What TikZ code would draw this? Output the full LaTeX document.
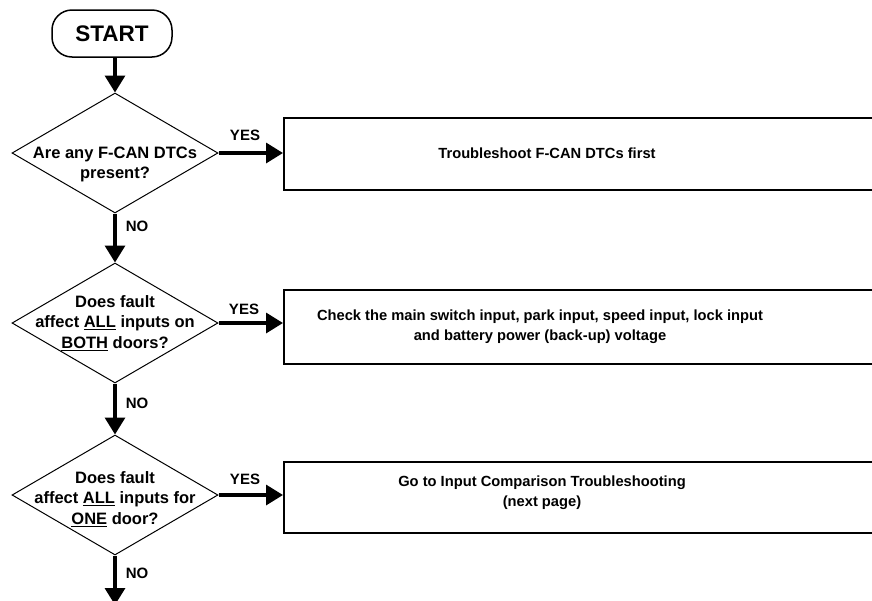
\documentclass[tikz,border=0pt]{standalone}
\usepackage{fontspec}
\setmainfont{Liberation Sans}
\usetikzlibrary{shapes.geometric,arrows.meta}
\begin{document}
\begin{tikzpicture}[x=1pt,y=-1pt,
  startbox/.style={draw,line width=1.5pt,rounded corners=20pt,minimum width=120pt,minimum height=47pt,inner sep=0pt,font=\fontsize{22.5}{26}\selectfont\bfseries},
  decision/.style={draw,diamond,line width=1pt,minimum width=206pt,minimum height=120pt,inner sep=0pt},
  dtext/.style={align=center,inner sep=0pt,font=\fontsize{16.5}{20.5}\selectfont\bfseries},
  actbox/.style={draw,line width=1.5pt,anchor=north west,minimum width=620pt,inner sep=0pt},
  btext/.style={align=center,inner sep=0pt,font=\fontsize{14.7}{20}\selectfont\bfseries},
  lbl/.style={inner sep=0pt,font=\fontsize{15}{18}\selectfont\bfseries},
  arr/.style={line width=3.3pt,-{Triangle[length=17pt,width=20pt]}}]
\clip (0,0) rectangle (872,600);
\fill[white] (0,0) rectangle (872,600);

\node[startbox] (start) at (112,33.5) {START};

\node[decision] (d1) at (115,153) {};
\node[dtext] (t1) at (115,164.5) {Are any F-CAN DTCs\\present?};
\node[decision] (d2) at (115,323) {};
\node[dtext] (t2) at (115,323) {Does fault\\affect \underline{ALL} inputs on\\\underline{BOTH} doors?};
\node[decision] (d3) at (115,495) {};
\node[dtext] (t3) at (115,499) {Does fault\\affect \underline{ALL} inputs for\\\underline{ONE} door?};

\node[actbox,minimum height=72pt] (b1) at (283,117) {};
\node[btext] (bt1) at (547,153) {Troubleshoot F-CAN DTCs first};
\node[actbox,minimum height=74pt] (b2) at (283,289) {};
\node[btext] (bt2) at (540,327) {Check the main switch input, park input, speed input, lock input\\and battery power (back-up) voltage};
\node[actbox,minimum height=71pt] (b3) at (283,461) {};
\node[btext] (bt3) at (542,493) {Go to Input Comparison Troubleshooting\\(next page)};

\node[lbl] (y1) at (245,135) {YES};
\node[lbl] (y2) at (244,309) {YES};
\node[lbl] (y3) at (245,479) {YES};
\node[lbl] (n1) at (137,226) {NO};
\node[lbl] (n2) at (137,403) {NO};
\node[lbl] (n3) at (137,573) {NO};

\coordinate (end) at (115,605);

\draw[arr] (d1.north |- start.south) -- (d1.north);
\draw[arr] (d1.south) -- (d2.north);
\draw[arr] (d2.south) -- (d3.north);
\draw[arr] (d3.south) -- (end);
\draw[arr] (d1.east) -- (b1.west |- d1.east);
\draw[arr] (d2.east) -- (b2.west |- d2.east);
\draw[arr] (d3.east) -- (b3.west |- d3.east);
\end{tikzpicture}
\end{document}
